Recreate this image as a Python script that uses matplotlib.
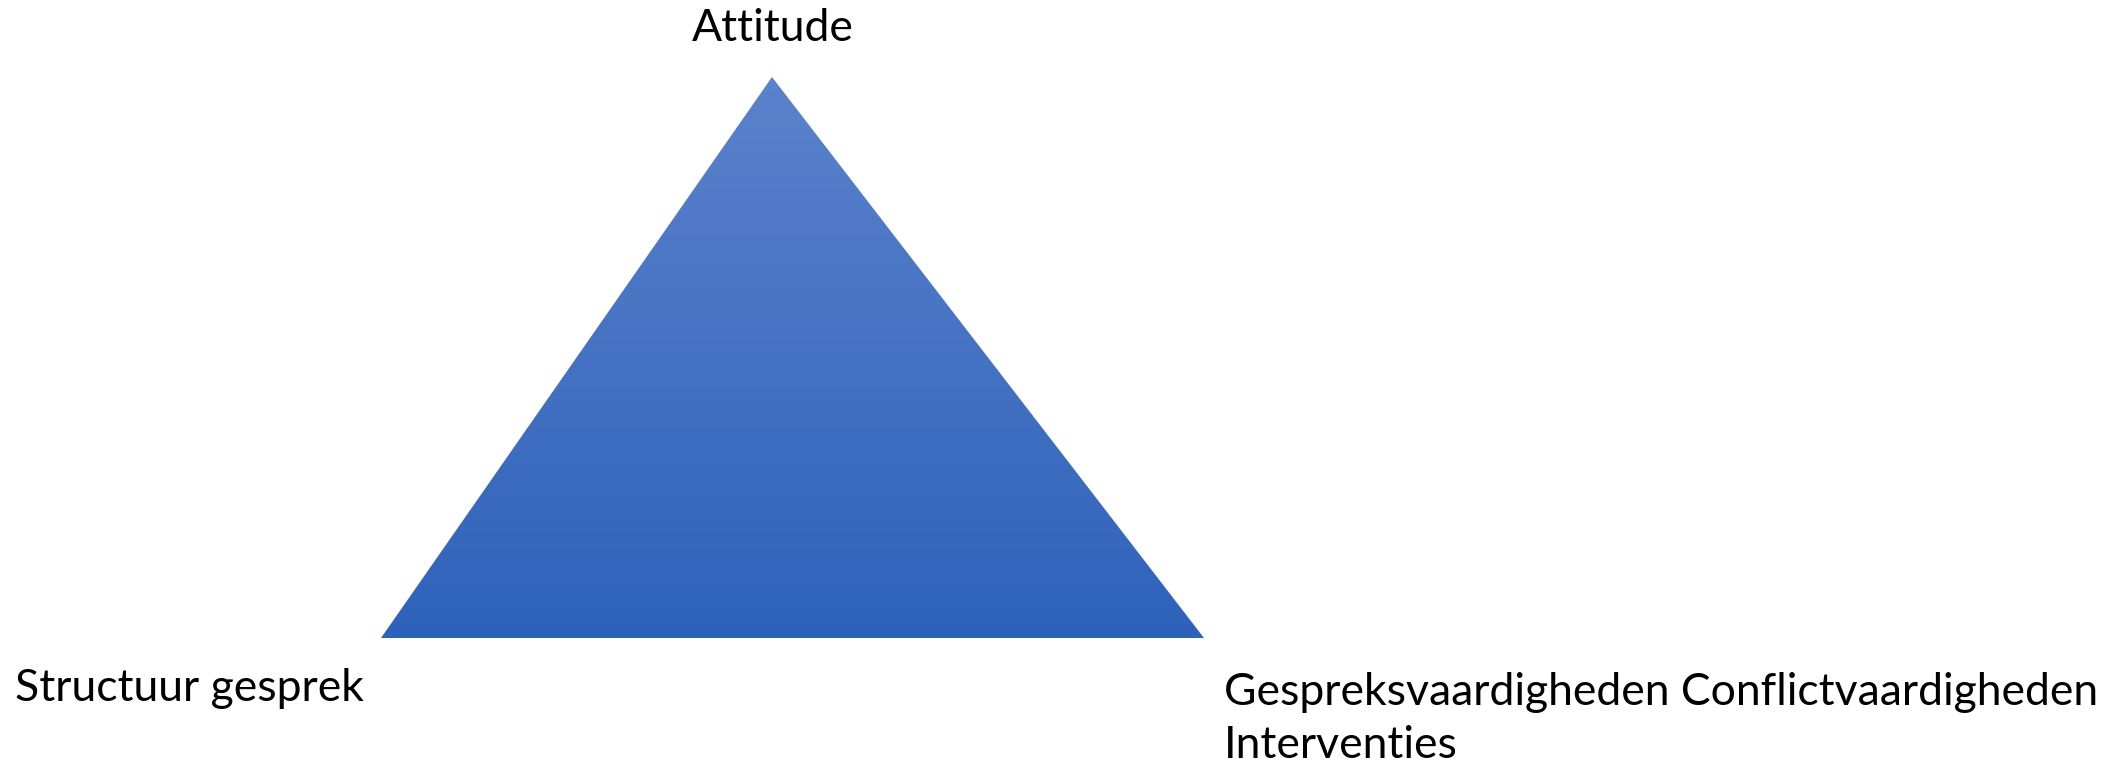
import numpy as np
import matplotlib
matplotlib.use('Agg')
import matplotlib.pyplot as plt
from matplotlib.patches import Polygon
from matplotlib.colors import LinearSegmentedColormap

plt.rcParams['font.family'] = ['Lato', 'DejaVu Sans']

# driehoek (pixel coordinaten van de figuur)
tri_x = [772, 381, 1204]
tri_y = [77, 638, 638]
top_color = '#5B82CC'
bottom_color = '#2E62BA'

top_label = 'Attitude'
left_label = 'Structuur gesprek'
right_lines = ['Gespreksvaardigheden Conflictvaardigheden', 'Interventies']

W, H = 2124, 768
fig = plt.figure(figsize=(W / 100, H / 100), dpi=100)
ax = fig.add_axes([0, 0, 1, 1])
ax.set_xlim(0, W)
ax.set_ylim(H, 0)
ax.axis('off')

cmap = LinearSegmentedColormap.from_list('blauw', [top_color, bottom_color])
grad = np.linspace(0, 1, 256).reshape(-1, 1)
img = ax.imshow(grad, cmap=cmap, aspect='auto',
                extent=[min(tri_x), max(tri_x), max(tri_y), min(tri_y)],
                interpolation='bilinear')
poly = Polygon(list(zip(tri_x, tri_y)), closed=True, facecolor='none', edgecolor='none')
ax.add_patch(poly)
img.set_clip_path(poly)

fs = 32
ax.text(773, 41, top_label, ha='center', va='baseline', fontsize=fs)
ax.text(15, 701, left_label, ha='left', va='baseline', fontsize=fs)
for i, line in enumerate(right_lines):
    ax.text(1224, 705 + i * 53, line, ha='left', va='baseline', fontsize=fs)

fig.savefig('out.png', dpi=100)
